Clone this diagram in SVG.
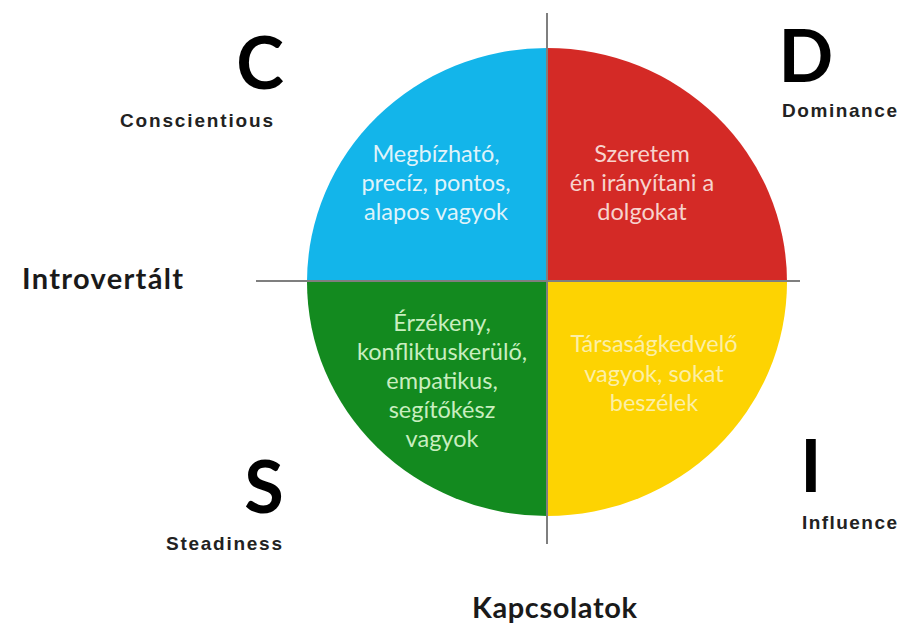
<svg xmlns="http://www.w3.org/2000/svg" width="905" height="623" viewBox="0 0 905 623">
<style>
.big{font-family:Lato,"Open Sans","Liberation Sans",sans-serif;font-weight:700;font-size:72px;fill:#000}
.lbl{font-family:"Liberation Sans",Arial,sans-serif;font-weight:700;font-size:19px;fill:#222}
.axis{font-family:Lato,"Open Sans","Liberation Sans",sans-serif;font-weight:700;font-size:29px;fill:#1a1a1a}
.q{font-family:Lato,"Open Sans","Liberation Sans",sans-serif;font-size:23.5px;text-anchor:middle}
.line{stroke:#7f7f7f;stroke-width:2;fill:none}
</style>
<rect width="905" height="623" fill="#fff"/>
<g id="quadrant-C">
<path d="M547,282 L547,48 A240,234 0 0 0 307,282 Z" fill="#13B5EA"/>
<text class="q" fill="#dff3fa"><tspan x="436" y="162">Megbízható,</tspan><tspan x="436" y="191">precíz, pontos,</tspan><tspan x="436" y="220">alapos vagyok</tspan></text>
</g>
<g id="quadrant-D">
<path d="M547,282 L547,48 A240,234 0 0 1 787,282 Z" fill="#D42A26"/>
<text class="q" fill="#f7d3cd"><tspan x="642" y="162">Szeretem</tspan><tspan x="642" y="191">én irányítani a</tspan><tspan x="642" y="220">dolgokat</tspan></text>
</g>
<g id="quadrant-I">
<path d="M547,282 L787,282 A240,234 0 0 1 547,516 Z" fill="#FDD302"/>
<text class="q" fill="#fcefa6"><tspan x="654" y="352">Társaságkedvelő</tspan><tspan x="654" y="382">vagyok, sokat</tspan><tspan x="654" y="411">beszélek</tspan></text>
</g>
<g id="quadrant-S">
<path d="M547,282 L547,516 A240,234 0 0 1 307,282 Z" fill="#138A1F"/>
<text class="q" fill="#c9eec0"><tspan x="442" y="331">Érzékeny,</tspan><tspan x="442" y="360">konfliktuskerülő,</tspan><tspan x="442" y="389">empatikus,</tspan><tspan x="442" y="418">segítőkész</tspan><tspan x="442" y="447">vagyok</tspan></text>
</g>
<g id="connectors">
<line class="line" x1="547" y1="13" x2="547" y2="544"/>
<line class="line" x1="256" y1="281" x2="800" y2="281"/>
</g>
<g id="label-C">
<text class="big" x="260" y="89" text-anchor="middle">C</text>
<text class="lbl" x="120" y="127" textLength="153" lengthAdjust="spacing">Conscientious</text>
</g>
<g id="label-D">
<text class="big" x="806" y="82" text-anchor="middle">D</text>
<text class="lbl" x="782" y="117" textLength="115" lengthAdjust="spacing">Dominance</text>
</g>
<g id="label-S">
<text class="big" x="264" y="513" text-anchor="middle">S</text>
<text class="lbl" x="166" y="550" textLength="116" lengthAdjust="spacing">Steadiness</text>
</g>
<g id="label-I">
<text class="big" x="811" y="492" text-anchor="middle">I</text>
<text class="lbl" x="802" y="529" textLength="95" lengthAdjust="spacing">Influence</text>
</g>
<g id="label-introvertalt">
<text class="axis" x="22" y="289" textLength="161" lengthAdjust="spacing">Introvertált</text>
</g>
<g id="label-kapcsolatok">
<text class="axis" x="472" y="618" textLength="165" lengthAdjust="spacing">Kapcsolatok</text>
</g>
</svg>
